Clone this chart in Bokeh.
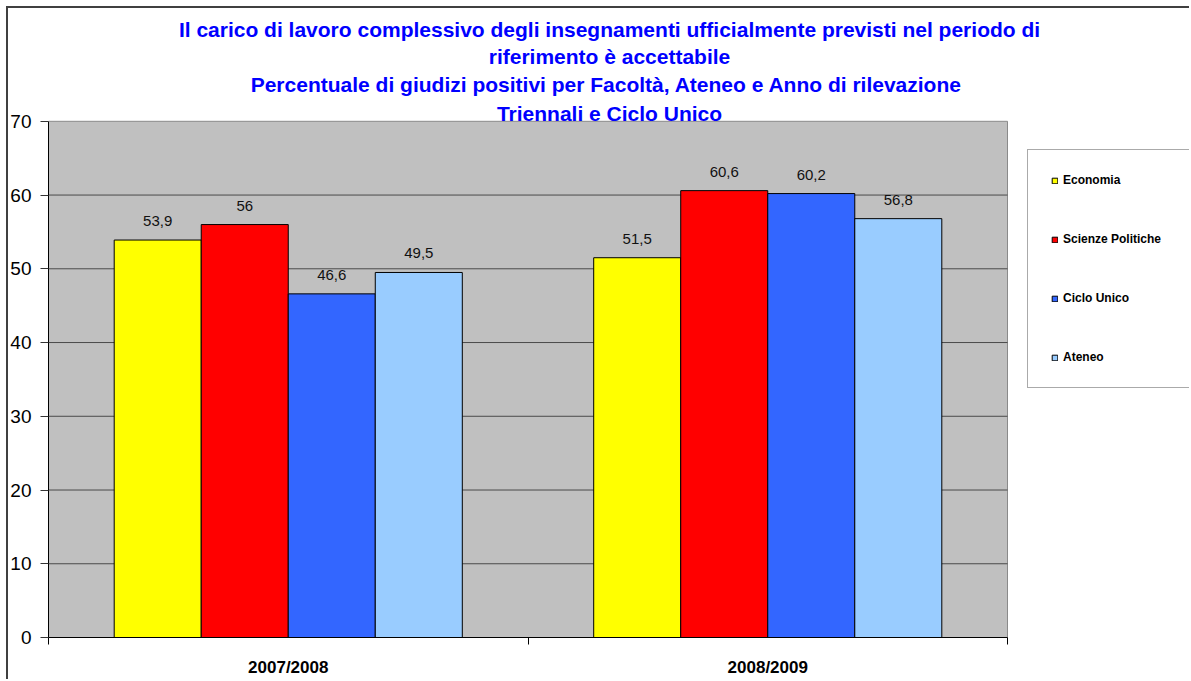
from bokeh.plotting import figure
from bokeh.models import (Range1d, FixedTicker, ColumnDataSource, Legend, LegendItem, Label)
from bokeh.transform import dodge
from bokeh.core.properties import value
from bokeh.embed import file_html
from bokeh.resources import INLINE

# ---------------- data ----------------
years = ["2007/2008", "2008/2009"]
series = ["Economia", "Scienze Politiche", "Ciclo Unico", "Ateneo"]
economia = [53.9, 51.5]
scienze_politiche = [56.0, 60.6]
ciclo_unico = [46.6, 60.2]
ateneo = [49.5, 56.8]
y_ticks = [0, 10, 20, 30, 40, 50, 60, 70]
title_lines = [
    "Il carico di lavoro complessivo degli insegnamenti ufficialmente previsti nel periodo di",
    "riferimento è accettabile",
    "Percentuale di giudizi positivi per Facoltà,  Ateneo e Anno di rilevazione",
    "Triennali e Ciclo Unico",
]
colors = ["#FFFF00", "#FF0000", "#3366FF", "#99CCFF"]

FONT = "Liberation Sans"

# ---------------- layout constants (pixels) ----------------
W, H = 1189, 679
PLOT_L, PLOT_R, PLOT_T, PLOT_B = 48, 1007, 121, 638   # chart area in canvas px

cols = {"Economia": economia, "Scienze Politiche": scienze_politiche,
        "Ciclo Unico": ciclo_unico, "Ateneo": ateneo}

def fmt(v):
    return f"{v:g}".replace(".", ",")

n = len(years)
y_top = y_ticks[-1]
# the frame spans the whole canvas right/top; the chart area occupies [0,n]x[0,y_top]
x_end = n * (W - PLOT_L) / (PLOT_R - PLOT_L)
y_end = y_top * PLOT_B / (PLOT_B - PLOT_T)

centers = [k + 0.5 for k in range(n)]
data = {"x": centers, "years": years}
for i, name in enumerate(series):
    data[f"v{i}"] = cols[name]
    data[f"l{i}"] = [fmt(v) for v in cols[name]]
source = ColumnDataSource(data)

p = figure(x_range=Range1d(0, x_end), y_range=Range1d(0, y_end),
           width=W, height=H, output_backend="svg", toolbar_location=None,
           min_border_left=PLOT_L, min_border_right=0,
           min_border_top=0, min_border_bottom=H - PLOT_B)

p.background_fill_color = "white"
p.background_fill_alpha = 0
p.border_fill_color = "white"
p.border_fill_alpha = 0
p.outline_line_color = None
p.styles = {
    "background": "linear-gradient(#404040,#404040) 6px 6px / 2px 100% no-repeat, "
                  "linear-gradient(#404040,#404040) 6px 6px / 100% 2px no-repeat, white"
}

# chart area background
p.quad(left=[0], right=[n], bottom=[y_ticks[0]], top=[y_top],
       fill_color="#C0C0C0", line_color="#8a8a8a", line_width=1)

# grid lines
grid_y = y_ticks[1:-1]
p.segment(x0=[0] * len(grid_y), x1=[n] * len(grid_y), y0=grid_y, y1=grid_y,
          line_color="#4a4a4a", line_width=1)
p.xgrid.grid_line_color = None
p.ygrid.grid_line_color = None

# y axis
p.yaxis.bounds = (y_ticks[0], y_top)
p.yaxis.ticker = FixedTicker(ticks=y_ticks)
p.yaxis.major_label_text_font = FONT
p.yaxis.major_label_text_font_size = "19px"
p.yaxis.major_label_text_color = "black"
p.yaxis.major_label_standoff = 9
p.yaxis.major_tick_out = 8
p.yaxis.major_tick_in = 0
p.yaxis.major_tick_line_color = "#333333"
p.yaxis.minor_tick_line_color = None
p.yaxis.axis_line_color = "black"

# x axis: labels at category centres, tick marks at category boundaries
xaxis = p.xaxis[0]
xaxis.bounds = (0, n)
xaxis.ticker = FixedTicker(ticks=centers, minor_ticks=list(range(n + 1)))
xaxis.major_label_overrides = {c: y for c, y in zip(centers, years)}
xaxis.major_tick_line_color = None
xaxis.major_tick_out = 7
xaxis.minor_tick_out = 7
xaxis.minor_tick_in = 0
xaxis.minor_tick_line_color = "black"
xaxis.axis_line_color = "black"
xaxis.major_label_text_font = FONT
xaxis.major_label_text_font_style = "bold"
xaxis.major_label_text_font_size = "17px"
xaxis.major_label_text_color = "black"
xaxis.major_label_standoff = 13

# bars
w = 0.1815
renderers = []
for i, name in enumerate(series):
    off = (i - 1.5) * w
    r = p.vbar(x=dodge("x", off), top=f"v{i}", width=w,
               fill_color=colors[i], line_color="black", line_width=1, source=source)
    renderers.append(r)
    p.text(x=dodge("x", off), y=f"v{i}", text=f"l{i}",
           source=source, text_align="center", text_baseline="middle",
           y_offset=-19, text_font=value(FONT), text_font_size="15px",
           text_color="#111111")

# legend (inside the wide frame, right of the chart area)
LEG_L, LEG_T, LEG_B = 1027, 154, 389
legend = Legend(items=[LegendItem(label=nm, renderers=[r]) for nm, r in zip(series, renderers)],
                location=(LEG_L - PLOT_L, PLOT_B - LEG_B), orientation="vertical")
legend.margin = 0
legend.padding = 23
legend.spacing = 45
legend.label_height = 14
legend.label_width = 110
legend.glyph_height = 7
legend.glyph_width = 7
legend.label_standoff = 5
legend.label_text_font = FONT
legend.label_text_font_style = "bold"
legend.label_text_font_size = "12px"
legend.label_text_color = "black"
legend.background_fill_color = "white"
legend.background_fill_alpha = 1
legend.border_line_color = "#555555"
legend.border_line_width = 1
p.add_layout(legend)

# title lines (centre and vertical offsets above the chart area, in px)
title_cx = (609 - PLOT_L) / (PLOT_R - PLOT_L) * n
title_offsets = [92, 65, 37, 8]
for line, off in zip(title_lines, title_offsets):
    p.add_layout(Label(x=title_cx, y=y_top, y_offset=off, text=line,
                       text_align="center", text_baseline="middle",
                       text_color="#0000FF", text_font=FONT,
                       text_font_style="bold", text_font_size="21px"))

open("out.html", "w").write(file_html(p, INLINE))
